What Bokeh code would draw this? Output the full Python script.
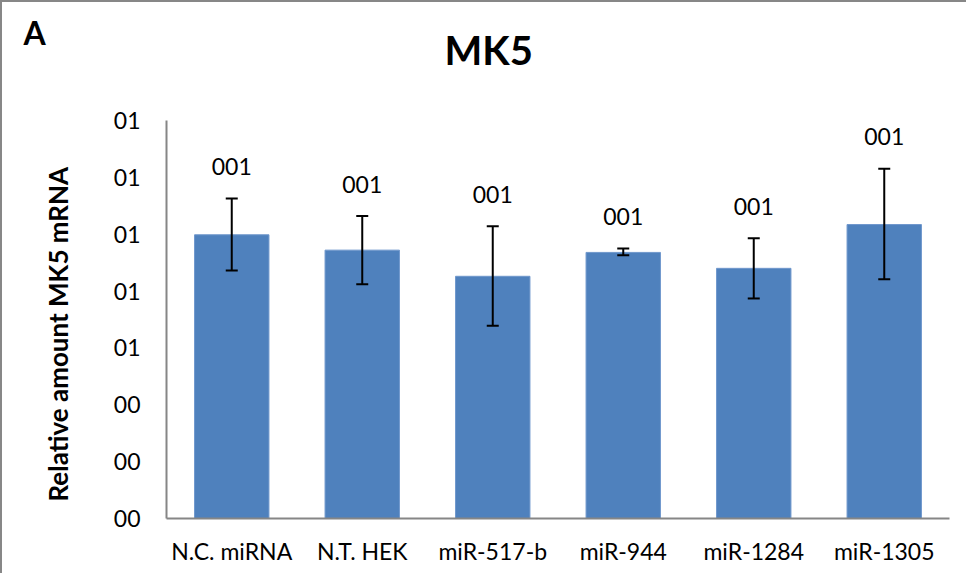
from bokeh.plotting import figure
from bokeh.layouts import column
from bokeh.models import (ColumnDataSource, Whisker, LabelSet, Label, FixedTicker, Range1d,
                          TeeHead, Title)
from bokeh.core.properties import value
from bokeh.embed import file_html
from bokeh.resources import INLINE

categories = ["N.C. miRNA", "N.T. HEK", "miR-517-b", "miR-944", "miR-1284", "miR-1305"]
values = [4.99, 4.72, 4.26, 4.68, 4.40, 5.17]
err_upper = [5.63, 5.32, 5.14, 4.75, 4.93, 6.15]
err_lower = [4.36, 4.12, 3.39, 4.63, 3.87, 4.21]
data_labels = ["001", "001", "001", "001", "001", "001"]
tick_values = [0, 1, 2, 3, 4, 5, 6, 7]
tick_labels = ["00", "00", "00", "01", "01", "01", "01", "01"]

FONT = "Lato"
BAR = "#4F81BD"
GRAY = "#868686"
W = 964
HEAD_H = 104
MAIN_H = 467

# header strip holding the panel letter and the chart title
head = figure(width=W, height=HEAD_H, x_range=Range1d(0, W), y_range=Range1d(0, HEAD_H),
              output_backend="svg", toolbar_location=None, min_border=0)
head.frame_align = False
head.axis.visible = False
head.grid.visible = False
head.outline_line_color = None
head.add_layout(Label(x=21, y=74, text="A", text_font=FONT, text_font_style="bold",
                      text_font_size="32px", text_align="left", text_baseline="alphabetic",
                      text_color="black"))
head.add_layout(Label(x=442, y=57, text="MK5", text_font=FONT, text_font_style="bold",
                      text_font_size="40px", text_align="left", text_baseline="alphabetic",
                      text_color="black"))

src = ColumnDataSource(dict(x=categories, top=values, upper=err_upper, lower=err_lower, lab=data_labels))

p = figure(x_range=categories, y_range=Range1d(0, 7), width=W, height=MAIN_H,
           output_backend="svg", toolbar_location=None,
           min_border_left=161, min_border_right=17, min_border_top=14, min_border_bottom=55)
p.frame_align = False
p.outline_line_color = None
p.xgrid.grid_line_color = None
p.ygrid.grid_line_color = None

p.vbar(x="x", top="top", width=0.57, source=src, fill_color=BAR, line_color="#6F97CC", line_width=1)

w = Whisker(base="x", upper="upper", lower="lower", source=src, line_color="black", line_width=2,
            upper_head=TeeHead(size=12, line_color="black", line_width=2),
            lower_head=TeeHead(size=12, line_color="black", line_width=2), level="overlay")
p.add_layout(w)

labels = LabelSet(x="x", y="upper", text="lab", source=src, y_offset=32, text_align="center",
                  text_baseline="middle", text_font=value(FONT), text_font_size=value("23px"),
                  text_color="black")
p.add_layout(labels)

p.yaxis.ticker = FixedTicker(ticks=tick_values)
p.yaxis.major_label_overrides = {t: l for t, l in zip(tick_values, tick_labels)}
p.yaxis.major_tick_line_color = None
p.yaxis.minor_tick_line_color = None
p.yaxis.major_label_standoff = 20
p.yaxis.major_label_text_font = FONT
p.yaxis.major_label_text_font_size = "23px"
p.yaxis.major_label_text_color = "black"
p.yaxis.axis_line_color = GRAY
p.yaxis.axis_line_width = 2

ytitle = Title(text="Relative amount MK5 mRNA", align="left", offset=17, standoff=74,
               text_font=FONT, text_font_style="bold", text_font_size="26px", text_color="black")
p.add_layout(ytitle, "left")

p.xaxis.major_tick_line_color = None
p.xaxis.minor_tick_line_color = None
p.xaxis.major_label_standoff = 12
p.xaxis.major_label_text_font = FONT
p.xaxis.major_label_text_font_size = "23px"
p.xaxis.major_label_text_color = "black"
p.xaxis.axis_line_color = GRAY
p.xaxis.axis_line_width = 2

layout = column(head, p, spacing=0)
layout.styles = {"border-left": "2px solid #878787", "border-top": "2px solid #878787"}

open("out.html", "w").write(file_html(layout, INLINE))
